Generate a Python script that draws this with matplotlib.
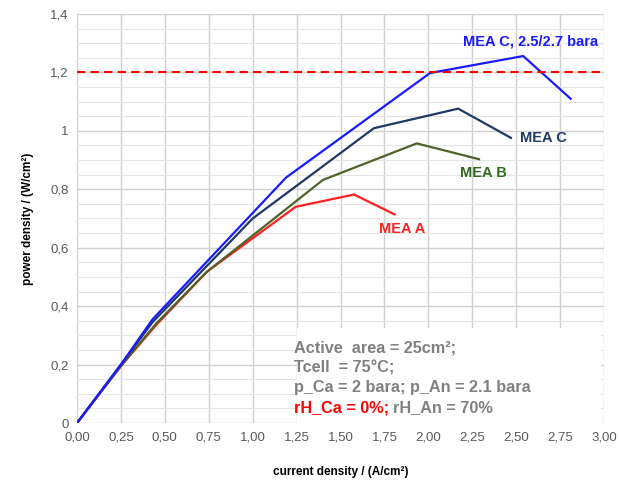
import numpy as np
import matplotlib.pyplot as plt
from matplotlib.ticker import MultipleLocator, FuncFormatter
from matplotlib.patches import Rectangle

# data
x_mea_c_hp = [0, 0.25, 0.43, 1.19, 2.01, 2.54, 2.81]
y_mea_c_hp = [0, 0.20, 0.355, 0.84, 1.198, 1.256, 1.11]

x_mea_c = [0, 0.25, 0.43, 1.00, 1.69, 2.17, 2.47]
y_mea_c = [0, 0.20, 0.345, 0.70, 1.009, 1.076, 0.976]

x_mea_b = [0, 0.25, 0.45, 0.74, 1.40, 1.934, 2.288]
y_mea_b = [0, 0.195, 0.34, 0.518, 0.832, 0.957, 0.903]

x_mea_a = [0, 0.25, 0.45, 0.74, 1.245, 1.577, 1.808]
y_mea_a = [0, 0.195, 0.335, 0.518, 0.74, 0.782, 0.714]

target_power = 1.2

plt.rcParams['font.family'] = ['Liberation Sans', 'DejaVu Sans']

fig = plt.figure(figsize=(6.19, 4.82), dpi=100)
ax = fig.add_axes([0.1244, 0.1224, 0.8514, 0.8486])

ax.set_xlim(0, 3.0)
ax.set_ylim(0, 1.4)
ax.xaxis.set_major_locator(MultipleLocator(0.25))
ax.yaxis.set_major_locator(MultipleLocator(0.2))
ax.yaxis.set_minor_locator(MultipleLocator(0.05))
ax.grid(which='major', color='#d0d0d0', linewidth=1.0)
ax.grid(which='minor', axis='y', color='#e4e4e4', linewidth=0.8)
ax.set_axisbelow(True)
for s in ax.spines.values():
    s.set_visible(False)
ax.tick_params(which='both', length=0, labelsize=9.5, labelcolor='#595959', pad=6)

ax.xaxis.set_major_formatter(FuncFormatter(lambda v, p: ('%.2f' % v).replace('.', ',')))
def yfmt(v, p):
    s = ('%.1f' % v).rstrip('0').rstrip('.')
    return s.replace('.', ',')
ax.yaxis.set_major_formatter(FuncFormatter(yfmt))

# white box behind the conditions text
ax.add_patch(Rectangle((1.25, 0.0), 1.73, 0.325, facecolor='white', edgecolor='none', zorder=1.5))

ax.plot(x_mea_a, y_mea_a, color='#ff2020', linewidth=1.6, zorder=3)
ax.plot(x_mea_b, y_mea_b, color='#4f6228', linewidth=1.6, zorder=3)
ax.plot(x_mea_c, y_mea_c, color='#1f3864', linewidth=1.6, zorder=3)
ax.plot(x_mea_c_hp, y_mea_c_hp, color='#1a1aff', linewidth=1.6, zorder=4)
ax.axhline(target_power, color='#ff0000', linewidth=1.5, linestyle=(0, (4, 2.5)), zorder=5)

ax.text(2.2, 1.305, 'MEA C, 2.5/2.7 bara', color='#1a1aff', fontsize=10.5, fontweight='bold', va='center')
ax.text(2.52, 0.976, 'MEA C', color='#1f3864', fontsize=10.5, fontweight='bold', va='center')
ax.text(2.18, 0.856, 'MEA B', color='#2f6b1f', fontsize=10.5, fontweight='bold', va='center')
ax.text(1.72, 0.664, 'MEA A', color='#ff2020', fontsize=10.5, fontweight='bold', va='center')

grey = '#808080'
tx = 1.235
fs = 11.7
ax.text(tx, 0.256, 'Active  area = 25cm²;', color=grey, fontsize=fs, fontweight='bold', va='center', zorder=6)
ax.text(tx, 0.188, 'Tcell  = 75°C;', color=grey, fontsize=fs, fontweight='bold', va='center', zorder=6)
ax.text(tx, 0.123, 'p_Ca = 2 bara; p_An = 2.1 bara', color=grey, fontsize=fs, fontweight='bold', va='center', zorder=6)
t1 = ax.text(tx, 0.052, 'rH_Ca = 0%;', color='#ff0000', fontsize=fs, fontweight='bold', va='center', zorder=6)
fig.canvas.draw()
bb = t1.get_window_extent()
x_end = ax.transData.inverted().transform((bb.x1, bb.y0))[0]
ax.text(x_end + 0.025, 0.052, 'rH_An = 70%', color=grey, fontsize=fs, fontweight='bold', va='center', zorder=6)

ax.set_xlabel('current density / (A/cm²)', fontsize=8.5, fontweight='bold', labelpad=16)
ax.set_ylabel('power density / (W/cm²)', fontsize=8.5, fontweight='bold', labelpad=12)

fig.savefig('out.png', dpi=100)
